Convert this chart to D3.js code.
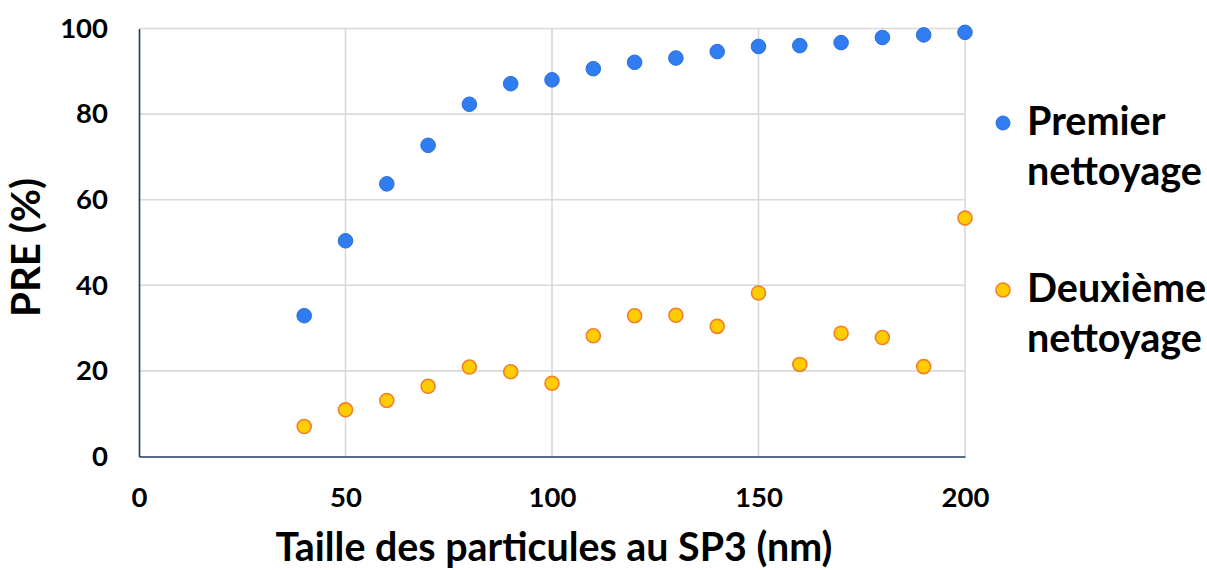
<!DOCTYPE html>
<html>
<head>
<meta charset="utf-8">
<script src="https://cdn.jsdelivr.net/npm/d3@7"></script>
<style>
  html, body { margin: 0; padding: 0; background: #fff; }
  svg text { font-family: Lato, "Open Sans", "DejaVu Sans", sans-serif; font-weight: 700; fill: #000; }
</style>
</head>
<body>
<svg id="chart" width="1207" height="570"></svg>
<script>
// ---- Data ----
const sizes = [40, 50, 60, 70, 80, 90, 100, 110, 120, 130, 140, 150, 160, 170, 180, 190, 200];
const premier = [32.9, 50.4, 63.7, 72.7, 82.3, 87.1, 88.0, 90.6, 92.1, 93.1, 94.6, 95.8, 96.0, 96.7, 97.9, 98.5, 99.1];
const deuxieme = [7.0, 10.9, 13.1, 16.4, 20.9, 19.8, 17.1, 28.2, 32.9, 33.0, 30.4, 38.2, 21.5, 28.8, 27.8, 21.0, 55.7];
const seriesNames = ["Premier nettoyage", "Deuxième nettoyage"];
const xTicks = [0, 50, 100, 150, 200];
const yTicks = [0, 20, 40, 60, 80, 100];
const xTitle = "Taille des particules au SP3 (nm)";
const yTitle = "PRE (%)";

// ---- Layout ----
const svg = d3.select("#chart");
const mLeft = 139, mRight = 965, mTop = 28.5, mBottom = 456.5;
const x = d3.scaleLinear().domain([0, 200]).range([mLeft, mRight]);
const y = d3.scaleLinear().domain([0, 100]).range([mBottom, mTop]);

const gridColor = "#d9d9d9";
const axisColor = "#1f3864";

function fitWidth(sel, target) {
  const node = sel.node();
  const base = 30;
  sel.style("font-size", base + "px");
  const w = node.getComputedTextLength();
  sel.style("font-size", (base * target / w) + "px");
}

// gridlines
svg.append("g").selectAll("line")
  .data(yTicks.filter(d => d > 0))
  .join("line")
  .attr("x1", x(0)).attr("x2", x(200))
  .attr("y1", d => y(d)).attr("y2", d => y(d))
  .attr("stroke", gridColor).attr("stroke-width", 1.6);

svg.append("g").selectAll("line")
  .data(xTicks.filter(d => d > 0))
  .join("line")
  .attr("x1", d => x(d)).attr("x2", d => x(d))
  .attr("y1", y(0)).attr("y2", y(100))
  .attr("stroke", gridColor).attr("stroke-width", 1.6);

// axes
const xAxis = svg.append("g")
  .attr("transform", `translate(0,${y(0)})`)
  .call(d3.axisBottom(x).tickValues(xTicks).tickSize(0).tickPadding(31).tickFormat(d3.format("d")));
const yAxis = svg.append("g")
  .attr("transform", `translate(${x(0)},0)`)
  .call(d3.axisLeft(y).tickValues(yTicks).tickSize(0).tickPadding(31).tickFormat(d3.format("d")));

[xAxis, yAxis].forEach(g => {
  g.select(".domain").attr("stroke", axisColor).attr("stroke-width", 1.6);
  g.selectAll("text").style("font-size", "27.5px").attr("fill", "#000")
    .style("font-family", 'Lato, "Open Sans", sans-serif').style("font-weight", 700);
});

// series
const s1 = sizes.map((d, i) => ({x: d, y: premier[i]}));
const s2 = sizes.map((d, i) => ({x: d, y: deuxieme[i]}));

svg.append("g").selectAll("circle")
  .data(s1).join("circle")
  .attr("cx", d => x(d.x)).attr("cy", d => y(d.y)).attr("r", 7.3)
  .attr("fill", "#2f7df0").attr("stroke", "#2d6fd6").attr("stroke-width", 1);

svg.append("g").selectAll("circle")
  .data(s2).join("circle")
  .attr("cx", d => x(d.x)).attr("cy", d => y(d.y)).attr("r", 7)
  .attr("fill", "#ffcc00").attr("stroke", "#f0802a").attr("stroke-width", 1.6);

// axis titles
const xt = svg.append("text").attr("text-anchor", "middle")
  .attr("x", (mLeft + mRight) / 2 + 2).attr("y", 561).text(xTitle);
fitWidth(xt, 557);

const yt = svg.append("text").attr("text-anchor", "middle")
  .attr("transform", "translate(40,247.5) rotate(-90)").text(yTitle);
fitWidth(yt, 139);

// legend
const legend = [
  {name: seriesNames[0], fill: "#2f7df0", stroke: "#2d6fd6", sw: 1, cy: 123, lines: [135, 185]},
  {name: seriesNames[1], fill: "#ffcc00", stroke: "#f0802a", sw: 1.6, cy: 290, lines: [302, 352]}
];
const lg = svg.append("g");
legend.forEach(l => {
  lg.append("circle").attr("cx", 1003).attr("cy", l.cy).attr("r", 7)
    .attr("fill", l.fill).attr("stroke", l.stroke).attr("stroke-width", l.sw);
  const parts = l.name.split(" ");
  const t = lg.append("text").attr("x", 1027);
  parts.forEach((p, i) => {
    t.append("tspan").attr("x", 1027).attr("y", l.lines[i]).text(p);
  });
});
// size legend text so "nettoyage" spans ~176px
const probe = lg.append("text").text("nettoyage");
fitWidth(probe, 175);
const lfs = probe.style("font-size");
probe.remove();
lg.selectAll("text").style("font-size", lfs);
</script>
</body>
</html>
